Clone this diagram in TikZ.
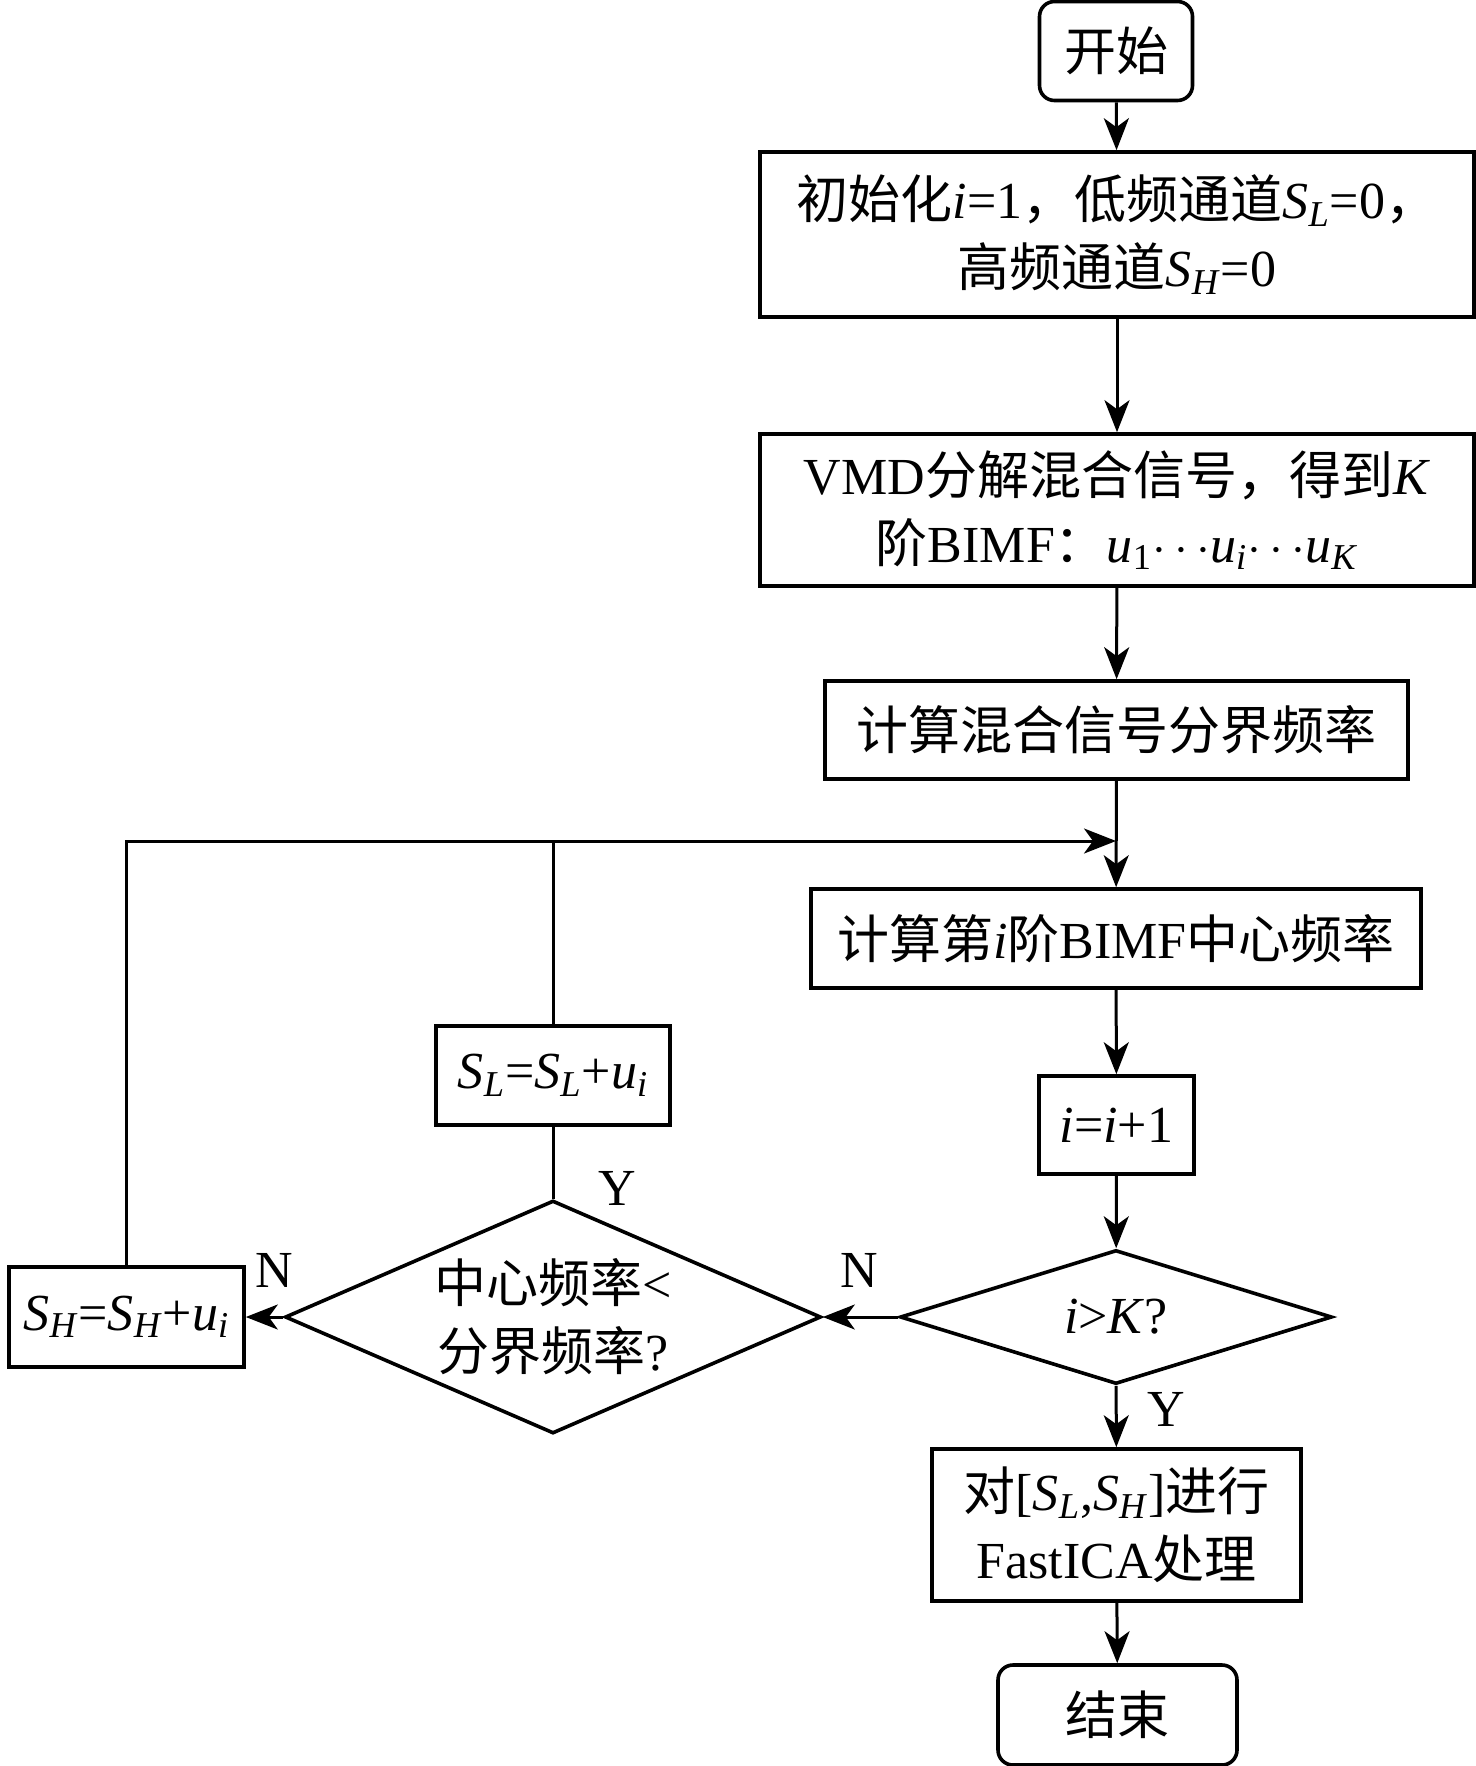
\documentclass[tikz,border=0pt]{standalone}
\usepackage{fontspec}
\setmainfont{Liberation Serif}
\newfontfamily\zhfont{Noto Sans CJK SC}
\usepackage{tikz}
\usetikzlibrary{calc,shapes.geometric,arrows.meta}

\newcommand{\zh}[1]{{\zhfont #1}}
\newcommand{\vs}[2]{\textit{#1}\textsubscript{\textit{#2}}}

\tikzset{
  FlowText/.style={font=\fontsize{26pt}{34pt}\selectfont},
  ProcBox/.style={FlowText,draw,line width=1.8pt,rectangle,align=center,inner sep=0pt},
  TermBox/.style={ProcBox,rounded corners=7.5pt},
  DecBox/.style={draw,line width=1.8pt,diamond,inner sep=0pt},
  FlowEdge/.style={line width=1.5pt,-{Stealth[length=16pt,width=12.5pt,inset=4.5pt]}},
  PlainEdge/.style={line width=1.5pt},
  BranchLabel/.style={FlowText,inner sep=0pt}
}

\begin{document}
\begin{tikzpicture}[x=0.5pt,y=-0.5pt]
            \useasboundingbox (0,0) rectangle (1476,1766);

            \node[TermBox,minimum width=76.5pt,minimum height=49.5pt] (start) at (1116,51) {\zh{开始}};
            \node[ProcBox,minimum width=357pt,minimum height=82.5pt] (init) at (1117,234.5)
                {\zh{初始化}\textit{i}=1\zh{，低频通道}\vs{S}{L}=0\zh{，}\\\zh{高频通道}\vs{S}{H}=0};
            \node[ProcBox,minimum width=357pt,minimum height=76pt] (vmd) at (1117,510)
                {VMD\zh{分解混合信号，得到}\textit{K}\\\zh{阶}BIMF\zh{：}\textit{u}\textsubscript{1}$\cdots$\vs{u}{i}$\cdots$\vs{u}{K}};
            \node[ProcBox,minimum width=291.5pt,minimum height=49pt] (bound) at (1116.5,730) {\zh{计算混合信号分界频率}};
            \node[ProcBox,minimum width=305pt,minimum height=49.5pt] (cfreq) at (1116,938.5)
                {\zh{计算第}\textit{i}\zh{阶}BIMF\zh{中心频率}};
            \node[ProcBox,minimum width=77.5pt,minimum height=49pt] (inc) at (1116.5,1125) {\textit{i}=\textit{i}+1};
            \node[ProcBox,minimum width=117pt,minimum height=49.5pt] (sl) at (553,1075.5) {\vs{S}{L}=\vs{S}{L}+\vs{u}{i}};
            \node[ProcBox,minimum width=117.5pt,minimum height=50pt] (sh) at (126.5,1317) {\vs{S}{H}=\vs{S}{H}+\vs{u}{i}};

            \node[DecBox,minimum width=268pt,minimum height=116.5pt] (cmp) at (553,1317) {};
            \node[FlowText,align=center,inner sep=0pt] (cmptext) at (553,1317) {\zh{中心频率}<\\\zh{分界频率}?};
            \node[DecBox,minimum width=216pt,minimum height=67pt] (chk) at (1116,1317) {};
            \node[FlowText,inner sep=0pt] (chktext) at (1116,1317) {\textit{i}>\textit{K}?};

            \node[ProcBox,minimum width=184.5pt,minimum height=76pt] (fast) at (1116.5,1525)
                {\zh{对}[\vs{S}{L},\vs{S}{H}]\zh{进行}\\FastICA\zh{处理}};
            \node[TermBox,minimum width=119.5pt,minimum height=50pt] (end) at (1117.5,1715) {\zh{结束}};

            \coordinate (join) at (1116,841);

            % main chain
            \draw[FlowEdge] (start) -- (init);
            \draw[FlowEdge] (init) -- (vmd);
            \draw[FlowEdge] (vmd) -- (bound);
            \draw[FlowEdge] (bound) -- (cfreq);
            \draw[FlowEdge] (cfreq) -- (inc);
            \draw[FlowEdge] (inc) -- (chk);
            \draw[FlowEdge] (chk) -- (fast);
            \draw[FlowEdge] (fast) -- (end);

            % branches
            \draw[FlowEdge] (chk.west) -- (cmp.east);
            \draw[FlowEdge] (cmp.west) -- (sh.east);
            \draw[PlainEdge] (cmp.north) -- (sl.south);
            \draw[PlainEdge] (sl.north) -- (sl.north |- join);
            \draw[FlowEdge] (sh.north) |- (join);

            \node[BranchLabel] (yes1) at (617,1188) {Y};
            \node[BranchLabel] (no1) at (274,1270) {N};
            \node[BranchLabel] (no2) at (859,1270) {N};
            \node[BranchLabel] (yes2) at (1166,1409) {Y};
\end{tikzpicture}
\end{document}
